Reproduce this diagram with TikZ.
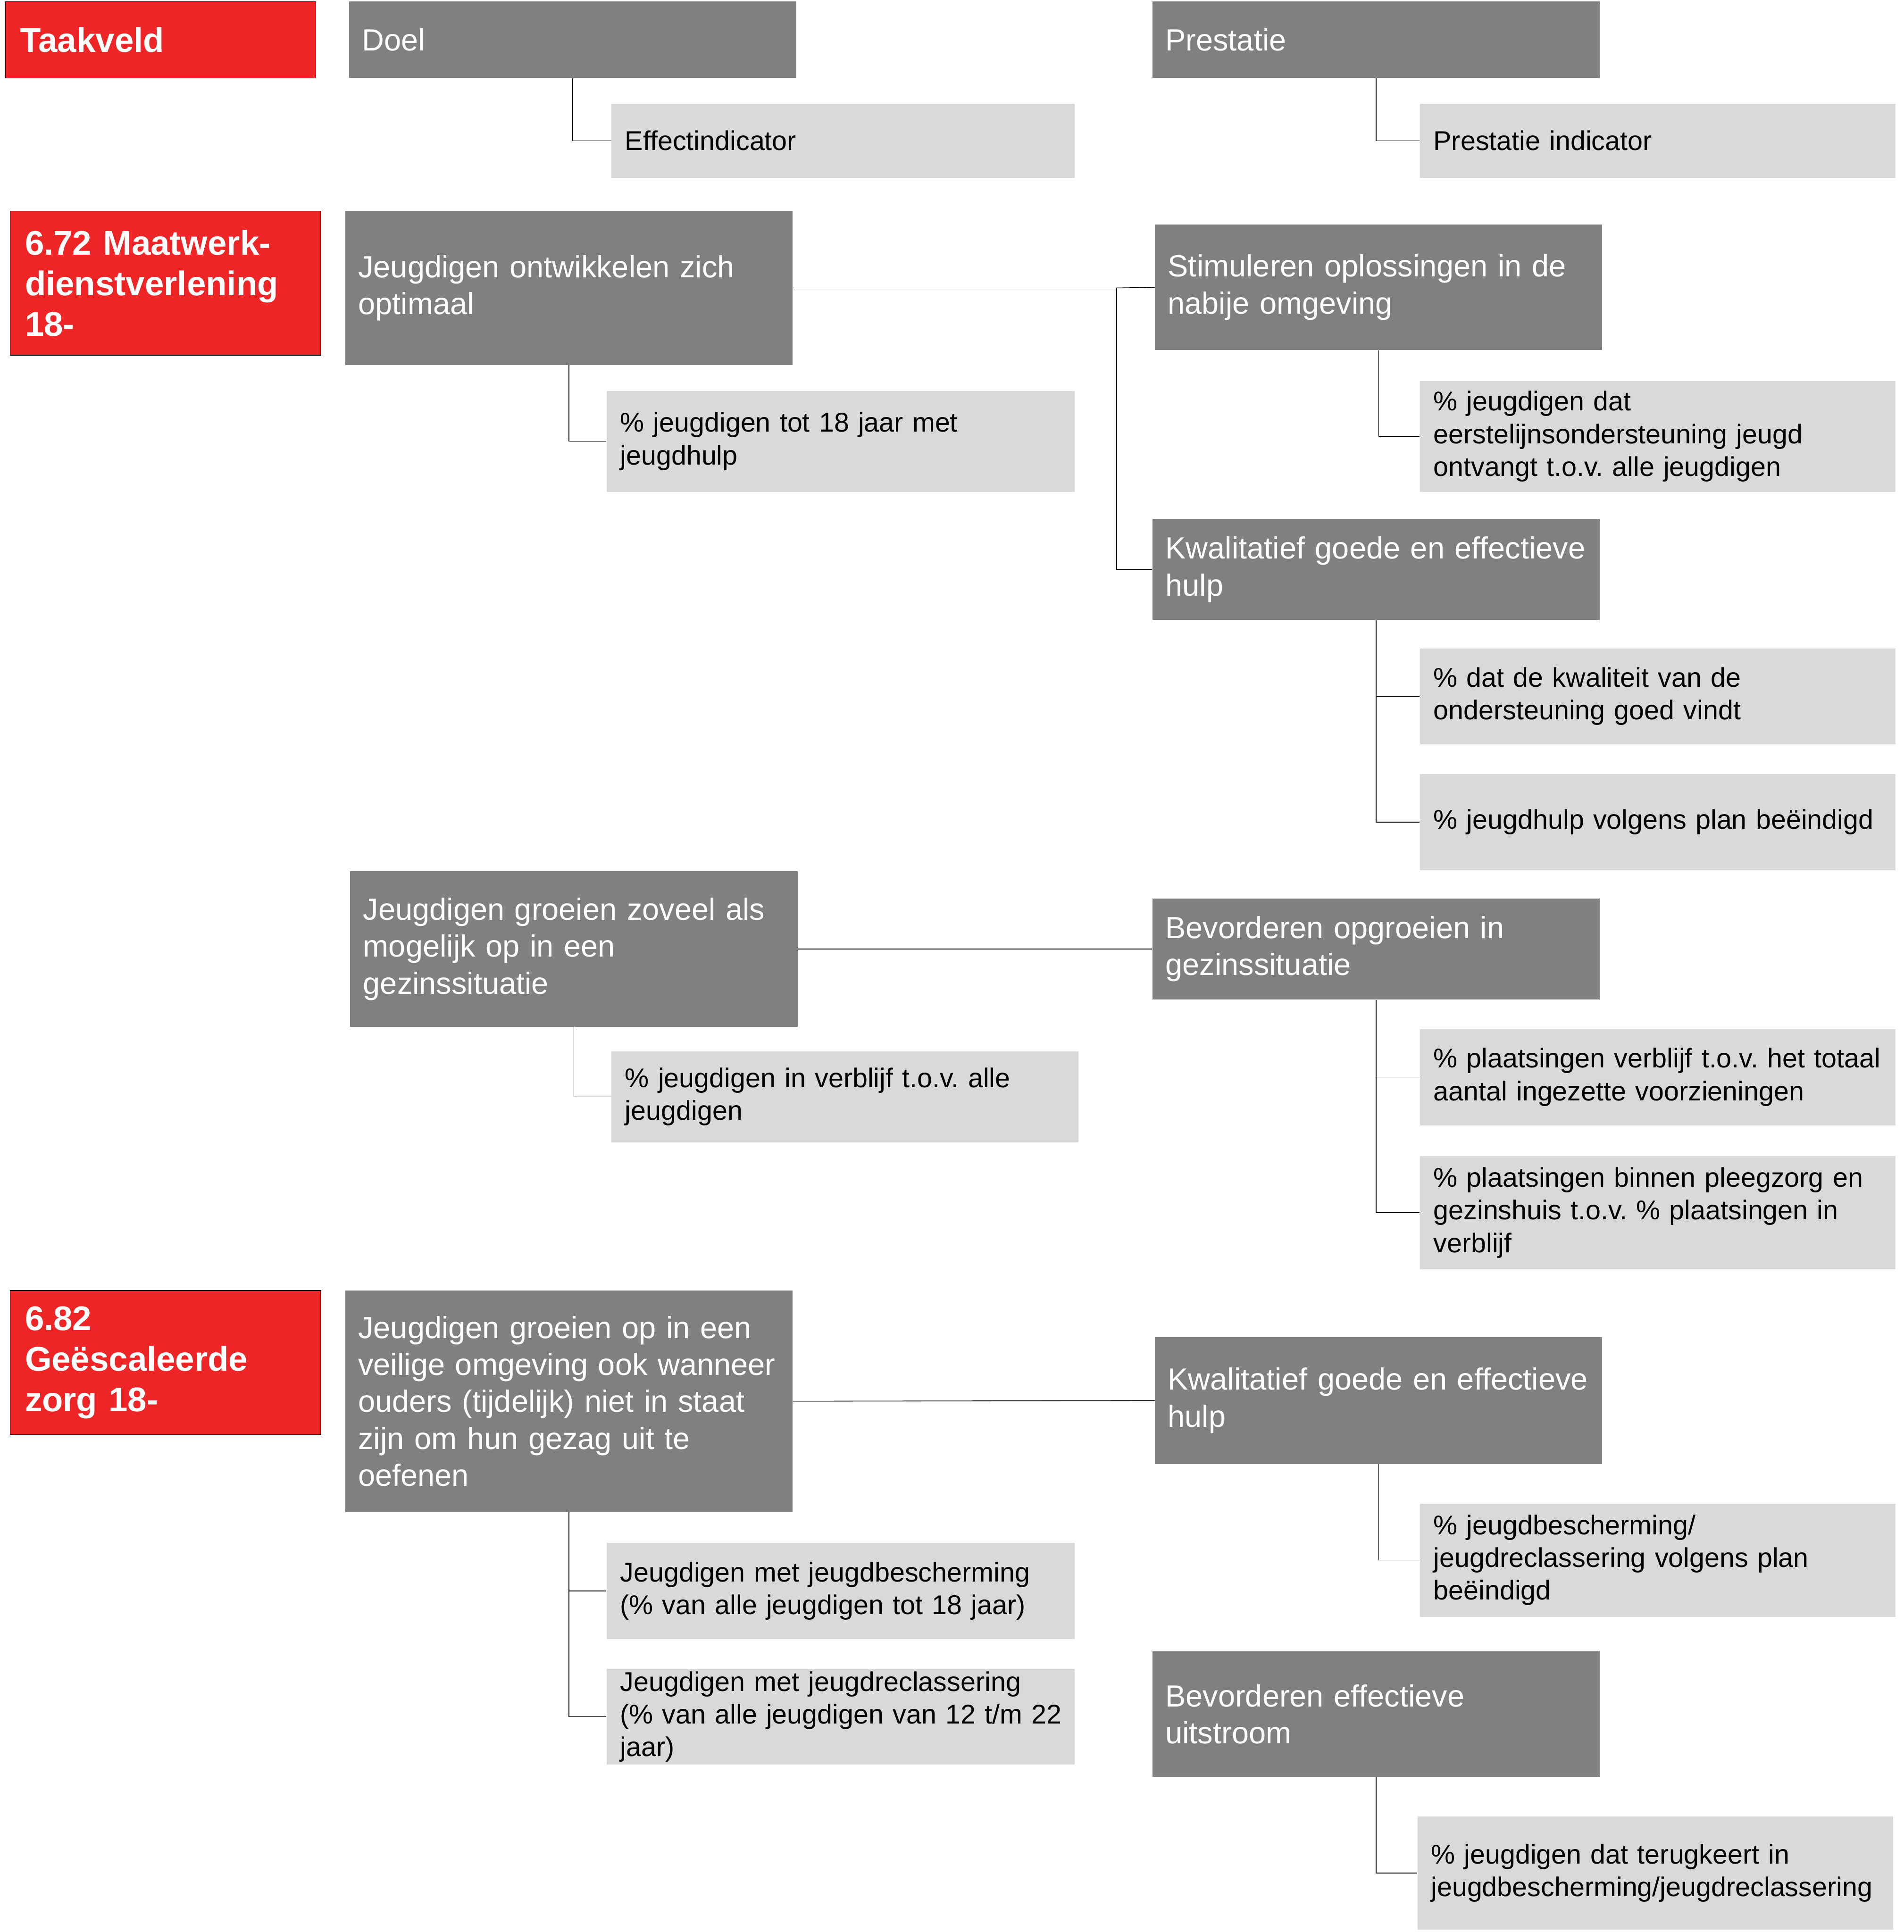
\documentclass[tikz,border=0pt]{standalone}
\usepackage{fontspec}
\setmainfont{Liberation Sans}
\frenchspacing
\hyphenpenalty=10000
\definecolor{veldrood}{RGB}{238,37,38}
\definecolor{doelgrijs}{RGB}{128,128,128}
\definecolor{indgrijs}{RGB}{217,217,217}
\tikzstyle{veld} = [draw=black, line width=0.6pt, fill=veldrood, text=white, anchor=north west, text width=228pt, inner xsep=12pt, inner ysep=0pt, align=left, font={\fontsize{27.8}{33}\selectfont\bfseries}]
\tikzstyle{doel} = [fill=doelgrijs, text=white, anchor=north west, text width=342pt, inner xsep=10.5pt, inner ysep=0pt, align=left, font={\fontsize{24.85}{30}\selectfont}]
\tikzstyle{ind} = [fill=indgrijs, anchor=north west, text width=364pt, inner xsep=11pt, inner ysep=0pt, align=left, font={\fontsize{22}{26.5}\selectfont}]
\tikzstyle{lijn} = [style={draw, line width=0.6pt}]

\begin{document}
\begin{tikzpicture}[x=1pt,y=-1pt]
        \fill[white] (0,0) rectangle (1545,1568);
        \useasboundingbox (0,0) rectangle (1545,1568);
        \node[veld, minimum height=62pt] (taak) at (4,1) {Taakveld};
        \node[doel, minimum height=62pt] (doel) at (283,1) {Doel};
        \node[ind, text width=354pt, minimum height=60pt] (effect) at (496,84) {Effectindicator};
        \node[doel, minimum height=62pt] (prest) at (935,1) {Prestatie};
        \node[ind, minimum height=60pt] (prestind) at (1152,84) {Prestatie indicator};
        \node[veld, minimum height=117pt] (mw) at (8,171) {6.72 Maatwerk-\\dienstverlening\\18-};
        \node[doel, minimum height=125pt] (ontw) at (280,171) {Jeugdigen ontwikkelen zich\\optimaal};
        \node[ind, text width=358pt, minimum height=82pt] (ontwind) at (492,317) {\% jeugdigen tot 18 jaar met\\jeugdhulp};
        \node[doel, minimum height=102pt] (stim) at (937,182) {Stimuleren oplossingen in de\\nabije omgeving};
        \node[ind, minimum height=90pt] (stimind) at (1152,309) {\% jeugdigen dat\\eerstelijnsondersteuning jeugd\\ontvangt t.o.v. alle jeugdigen};
        \node[doel, minimum height=82pt] (kwal) at (935,421) {Kwalitatief goede en effectieve\\hulp};
        \node[ind, minimum height=78pt] (kwalind) at (1152,526) {\% dat de kwaliteit van de\\ondersteuning goed vindt};
        \node[ind, minimum height=78pt] (planind) at (1152,628) {\% jeugdhulp volgens plan beëindigd};
        \node[doel, minimum height=126pt] (gezin) at (284,707) {Jeugdigen groeien zoveel als\\mogelijk op in een\\gezinssituatie};
        \node[ind, text width=357pt, minimum height=74pt] (gezinind) at (496,853) {\% jeugdigen in verblijf t.o.v. alle\\jeugdigen};
        \node[doel, minimum height=82pt] (bevord) at (935,729) {Bevorderen opgroeien in\\gezinssituatie};
        \node[ind, minimum height=78pt] (verblijf) at (1152,835) {\mbox{\% plaatsingen verblijf t.o.v. het totaal}\\aantal ingezette voorzieningen};
        \node[ind, minimum height=92pt] (pleeg) at (1152,938) {\% plaatsingen binnen pleegzorg en\\gezinshuis t.o.v. \% plaatsingen in\\verblijf};
        \node[veld, minimum height=117pt] (gz) at (8,1047) {6.82\\Geëscaleerde\\zorg 18-};
        \node[doel, minimum height=180pt] (veilig) at (280,1047) {Jeugdigen groeien op in een\\veilige omgeving ook wanneer\\ouders (tijdelijk) niet in staat\\zijn om hun gezag uit te\\oefenen};
        \node[ind, text width=358pt, minimum height=78pt] (jb) at (492,1252) {Jeugdigen met jeugdbescherming\\(\% van alle jeugdigen tot 18 jaar)};
        \node[ind, text width=358pt, minimum height=78pt] (jr) at (492,1354) {Jeugdigen met jeugdreclassering\\\mbox{(\% van alle jeugdigen van 12 t/m 22}\\jaar)};
        \node[doel, minimum height=103pt] (kwal2) at (937,1085) {Kwalitatief goede en effectieve\\hulp};
        \node[ind, minimum height=92pt] (jbplan) at (1152,1220) {\% jeugdbescherming/\\jeugdreclassering volgens plan\\beëindigd};
        \node[doel, minimum height=102pt] (uitstr) at (935,1340) {Bevorderen effectieve\\uitstroom};
        \node[ind, minimum height=92pt] (terug) at (1150,1474) {\% jeugdigen dat terugkeert in\\\mbox{jeugdbescherming/jeugdreclassering}};
        \coordinate (splits) at (906,0);
        \draw[lijn] (doel.south) |- (effect.west);
        \draw[lijn] (prest.south) |- (prestind.west);
        \draw[lijn] (ontw.south) |- (ontwind.west);
        \draw[lijn] (ontw.east) -- (ontw.east -| splits) |- (kwal.west);
        \draw[lijn] (ontw.east -| splits) -- (stim.west);
        \draw[lijn] (stim.south) |- (stimind.west);
        \draw[lijn] (kwal.south) |- (kwalind.west);
        \draw[lijn] (kwal.south) |- (planind.west);
        \draw[lijn] (gezin.south) |- (gezinind.west);
        \draw[lijn] (gezin.east) -- (bevord.west);
        \draw[lijn] (bevord.south) |- (verblijf.west);
        \draw[lijn] (bevord.south) |- (pleeg.west);
        \draw[lijn] (veilig.south) |- (jb.west);
        \draw[lijn] (veilig.south) |- (jr.west);
        \draw[lijn] (veilig.east) -- (kwal2.west);
        \draw[lijn] (kwal2.south) |- (jbplan.west);
        \draw[lijn] (uitstr.south) |- (terug.west);
      \end{tikzpicture}
\end{document}
